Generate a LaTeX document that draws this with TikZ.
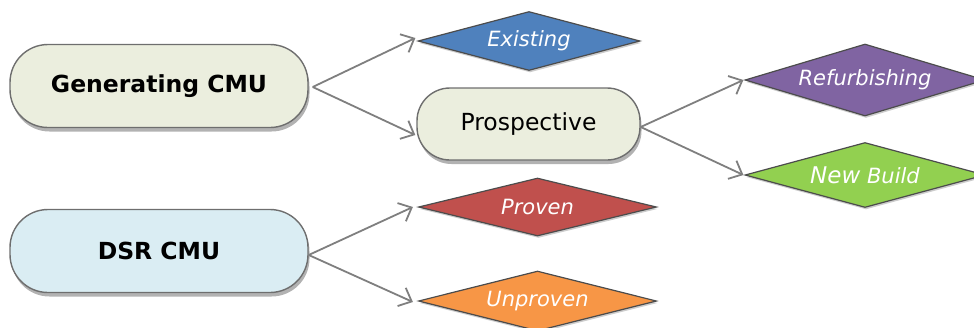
\documentclass[tikz,border=0pt]{standalone}
\usepackage{fontspec}
\setmainfont{DejaVu Sans}
\usetikzlibrary{shapes.geometric,arrows.meta,shadows}
\definecolor{genfill}{HTML}{EBEEDE}
\definecolor{dsrfill}{HTML}{DAEDF3}
\definecolor{exfill}{HTML}{4F81BD}
\definecolor{reffill}{HTML}{8064A2}
\definecolor{nbfill}{HTML}{92D050}
\definecolor{prfill}{HTML}{C0504D}
\definecolor{unfill}{HTML}{F79646}
\definecolor{edgegray}{HTML}{6E6E6E}
\definecolor{conngray}{HTML}{7F7F7F}
\tikzset{
  pill/.style={draw=edgegray, line width=1.4pt, inner sep=0pt,
    drop shadow={shadow xshift=1.5pt, shadow yshift=-4pt, opacity=0.3, fill=black}},
  dia/.style={diamond, aspect=4, draw=black!70, line width=1.2pt, inner sep=0pt, text=white,
    font=\fontsize{21}{25}\selectfont\itshape,
    drop shadow={shadow xshift=1pt, shadow yshift=-2pt, opacity=0.2, fill=black}},
  conn/.style={draw=conngray, line width=1.8pt,
    -{Straight Barb[length=11pt,width=20pt,line width=1.8pt]}},
}
\begin{document}
\begin{tikzpicture}[x=1pt,y=-1pt]
\useasboundingbox (0,0) rectangle (974,327);
\clip (0,0) rectangle (974,327);
\node[pill, fill=genfill, minimum width=298pt, minimum height=83pt, rounded corners=38pt,
  font=\fontsize{23.5}{28}\selectfont\bfseries] (gen) at (159,86) {Generating CMU};
\node[pill, fill=dsrfill, minimum width=298pt, minimum height=83pt, rounded corners=38pt,
  font=\fontsize{23.5}{28}\selectfont\bfseries] (dsr) at (159,251) {DSR CMU};
\node[pill, fill=genfill, minimum width=223pt, minimum height=72pt, rounded corners=33pt,
  font=\fontsize{23.5}{28}\selectfont] (pros) at (528.5,124) {Prospective};
\node[dia, fill=exfill, minimum width=222pt, minimum height=59pt] (ex) at (529,41) {Existing};
\node[dia, fill=reffill, aspect=3.3, minimum width=240pt, minimum height=72pt] (ref) at (865,80) {Refurbishing};
\node[dia, fill=nbfill, aspect=3.6, minimum width=240pt, minimum height=65pt] (nb) at (865,175) {{\fontsize{23}{25}\selectfont New} Build};
\node[dia, fill=prfill, minimum width=238pt, minimum height=58pt] (pr) at (537.5,207) {Proven};
\node[dia, fill=unfill, minimum width=238pt, minimum height=60pt] (un) at (537.5,301) {Unproven};
\draw[conn] ([xshift=4pt,yshift=-1pt]gen.east) -- ([xshift=-2pt,yshift=3pt]ex.west);
\draw[conn] ([xshift=4pt,yshift=-1pt]gen.east) -- ([xshift=-1pt,yshift=-11pt]pros.west);
\draw[conn] ([yshift=-3pt]pros.east) -- ([xshift=-1pt]ref.west);
\draw[conn] ([yshift=-3pt]pros.east) -- ([xshift=-1pt]nb.west);
\draw[conn] ([yshift=-4pt]dsr.east) -- ([xshift=-5pt]pr.west);
\draw[conn] ([yshift=-4pt]dsr.east) -- ([xshift=-5pt,yshift=-1pt]un.west);
\end{tikzpicture}
\end{document}
